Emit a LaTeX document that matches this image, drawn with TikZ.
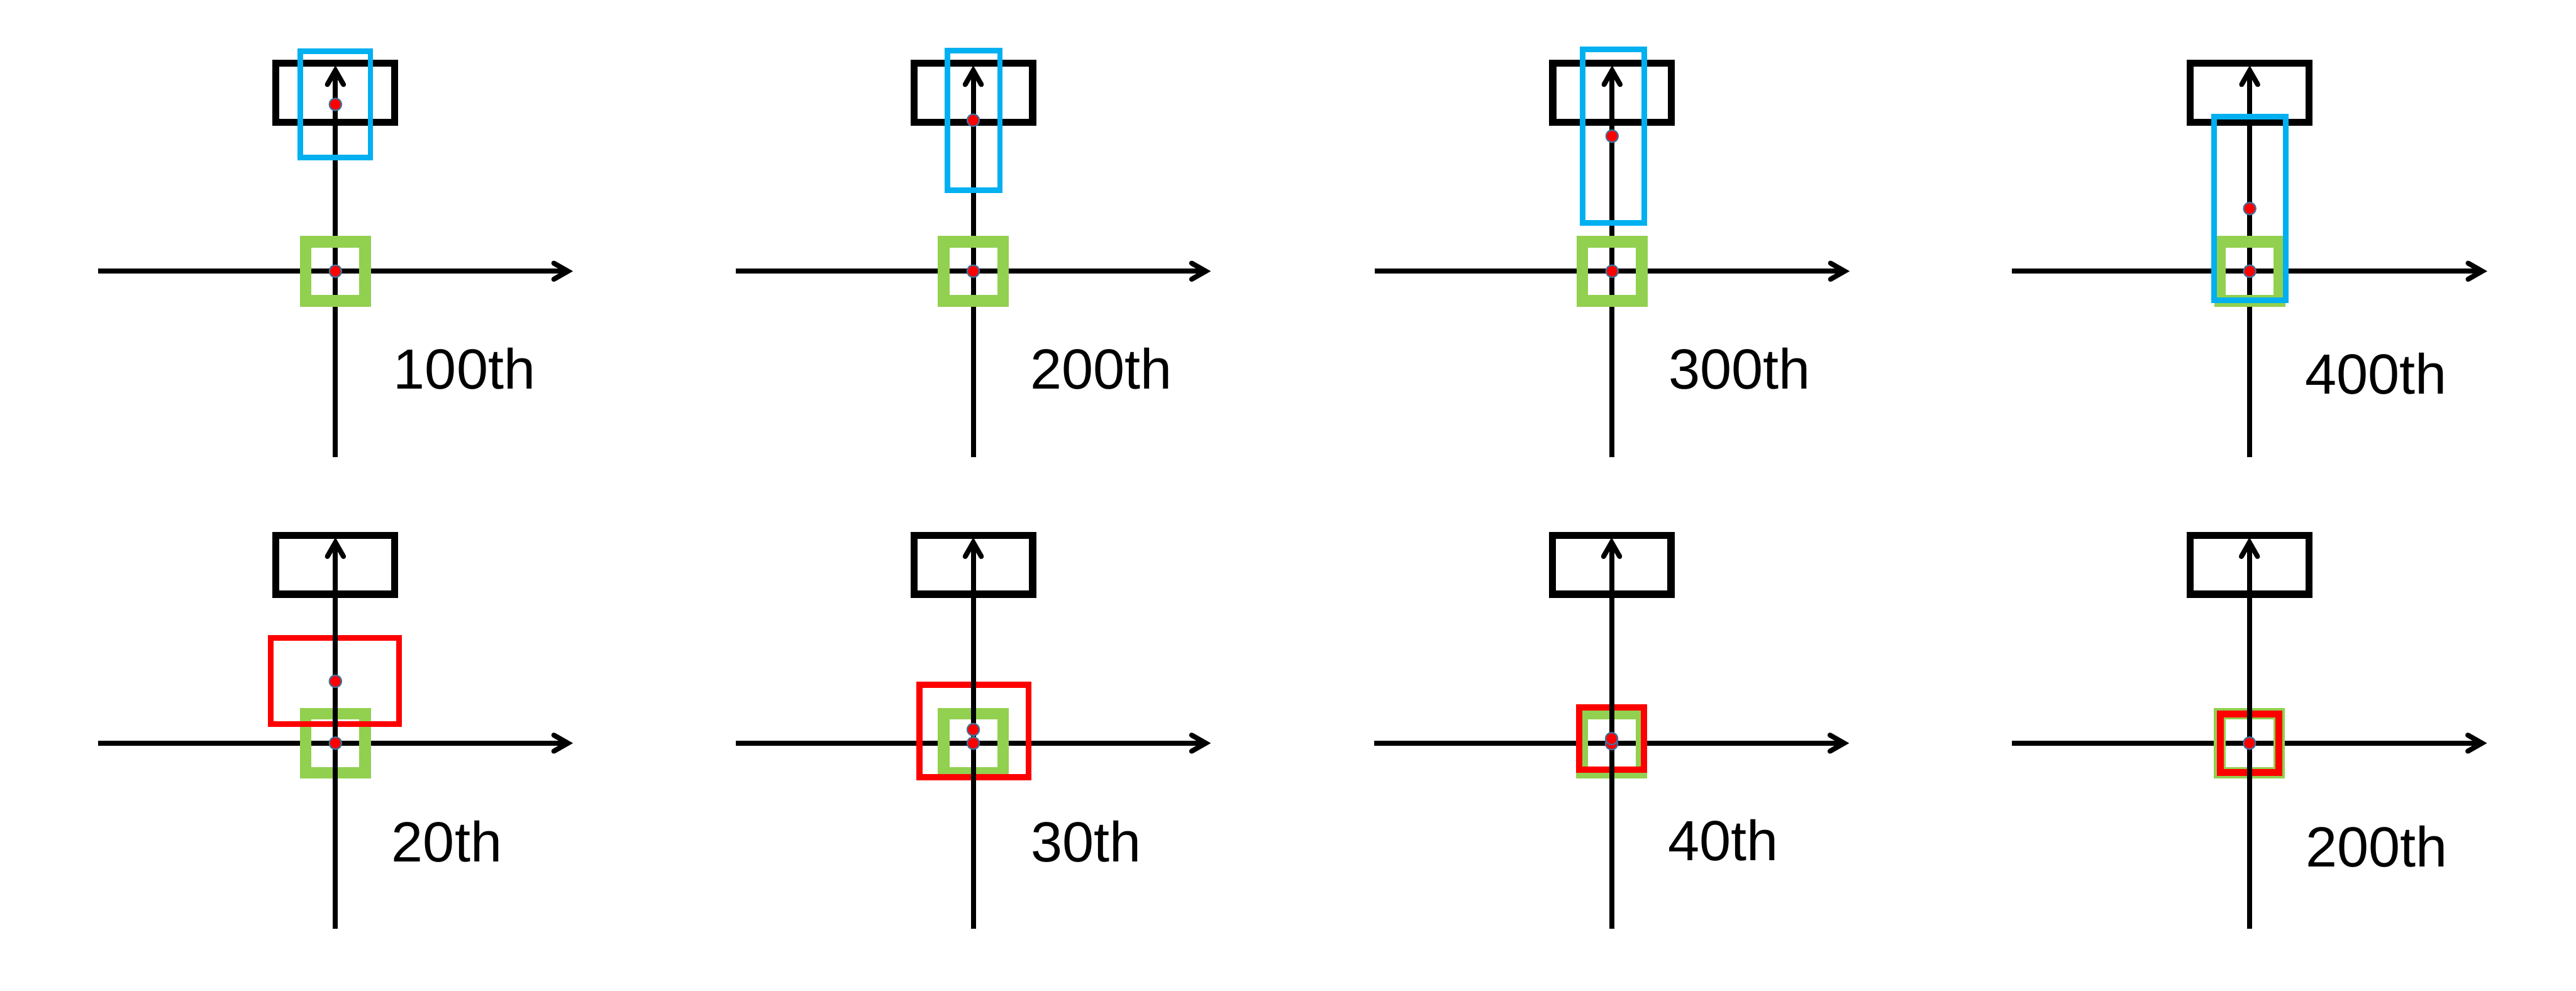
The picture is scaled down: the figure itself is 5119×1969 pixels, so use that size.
\documentclass[tikz,border=0pt]{standalone}
\usepackage{fontspec}
\setmainfont{Liberation Sans}
\usetikzlibrary{calc}
\definecolor{pblue}{HTML}{00B0F0}
\definecolor{pgreen}{HTML}{92D050}
\definecolor{pred}{HTML}{FF0000}
\definecolor{dotline}{HTML}{41719C}
\newcommand\PanHAxis[1]{%
  \draw[axisline] ($(#1)+(-472,0)$) -- ($(#1)+(462,0)$);
  \draw[tipline] ($(#1)+(434,-16)$) -- ($(#1)+(462,0)$) -- ($(#1)+(434,16)$);}
\newcommand\PanVAxis[1]{%
  \draw[axisline] ($(#1)+(0,369)$) -- ($(#1)+(0,-399)$);
  \draw[tipline] ($(#1)+(-16,-371)$) -- ($(#1)+(0,-399)$) -- ($(#1)+(16,-371)$);}
\newcommand\PanRef[1]{\draw[refbox] ($(#1)+(-118,-413)$) rectangle ($(#1)+(118,-296)$);}
\newcommand\PanGreen[1]{\draw[greenbox] ($(#1)+(-59,-58.5)$) rectangle ($(#1)+(59,59)$);}
\begin{document}
\begin{tikzpicture}[x=0.01cm,y=-0.01cm,
  axisline/.style={line width=0.1cm, draw=black},
  tipline/.style={line width=0.1cm, draw=black, line cap=round, line join=miter},
  refbox/.style={line width=0.14cm, draw=black},
  greenbox/.style={line width=0.23cm, draw=pgreen},
  bluebox/.style={line width=0.11cm, draw=pblue},
  redbox/.style={line width=0.12cm, draw=pred},
  trackdot/.style={circle, fill=pred, draw=dotline, line width=0.028cm, minimum size=0.24cm, inner sep=0pt},
  lbl/.style={font=\fontsize{32}{38}\selectfont, inner sep=0pt}]
\useasboundingbox (0,0) rectangle (5119,1969);
\fill[white] (0,0) rectangle (5119,1969);
% origins
\coordinate (o1) at (666.5,539);
\coordinate (o2) at (1934,539);
\coordinate (o3) at (3203.5,539);
\coordinate (o4) at (4470.5,539);
\coordinate (o5) at (666.5,1477);
\coordinate (o6) at (1934,1477);
\coordinate (o7) at (3202.5,1477);
\coordinate (o8) at (4470,1477);
% ---------- top row ----------
\foreach \o in {o1,o2,o3,o4}{\PanHAxis{\o}\PanVAxis{\o}\PanRef{\o}\PanGreen{\o}}
\draw[bluebox] (597,102) rectangle (736,313);
\draw[bluebox] (1883,100.5) rectangle (1987,378);
\draw[bluebox] (3145,98.6) rectangle (3267.5,442.6);
\draw[bluebox] (4400,232) rectangle (4542,597);
\node[trackdot] (a1) at (o1) {};
\node[trackdot] (b1) at (666.5,207.5) {};
\node[trackdot] (a2) at (o2) {};
\node[trackdot] (b2) at (1934,239) {};
\node[trackdot] (a3) at (o3) {};
\node[trackdot] (b3) at (3203.5,270.6) {};
\node[trackdot] (a4) at (o4) {};
\node[trackdot] (b4) at (4470.5,414.5) {};
\node[lbl] (l1) at (923,733) {100th};
\node[lbl] (l2) at (2188,733) {200th};
\node[lbl] (l3) at (3457,733) {300th};
\node[lbl] (l4) at (4722,743) {400th};
% ---------- bottom row ----------
\foreach \o in {o5,o6,o7,o8}{\PanHAxis{\o}\PanRef{\o}\PanGreen{\o}}
\draw[redbox] (538,1268) rectangle (793,1439);
\draw[redbox] (1827,1361) rectangle (2044,1545);
\draw[redbox] (3138,1406) rectangle (3267,1529.5);
\draw[redbox, line width=0.14cm] (4412,1419) rectangle (4528,1535);
\foreach \o in {o5,o6,o7,o8}{\PanVAxis{\o}}
\node[trackdot] (a5) at (o5) {};
\node[trackdot] (b5) at (666.5,1354) {};
\node[trackdot] (a6) at (o6) {};
\node[trackdot] (b6) at (1934,1450) {};
\node[trackdot] (a7) at (3202.5,1478) {};
\node[trackdot] (b7) at (3202.5,1468) {};
\node[trackdot] (a8) at (o8) {};
\node[lbl] (l5) at (888,1672) {20th};
\node[lbl] (l6) at (2158,1672) {30th};
\node[lbl] (l7) at (3424,1670) {40th};
\node[lbl] (l8) at (4723,1683) {200th};
\end{tikzpicture}
\end{document}
